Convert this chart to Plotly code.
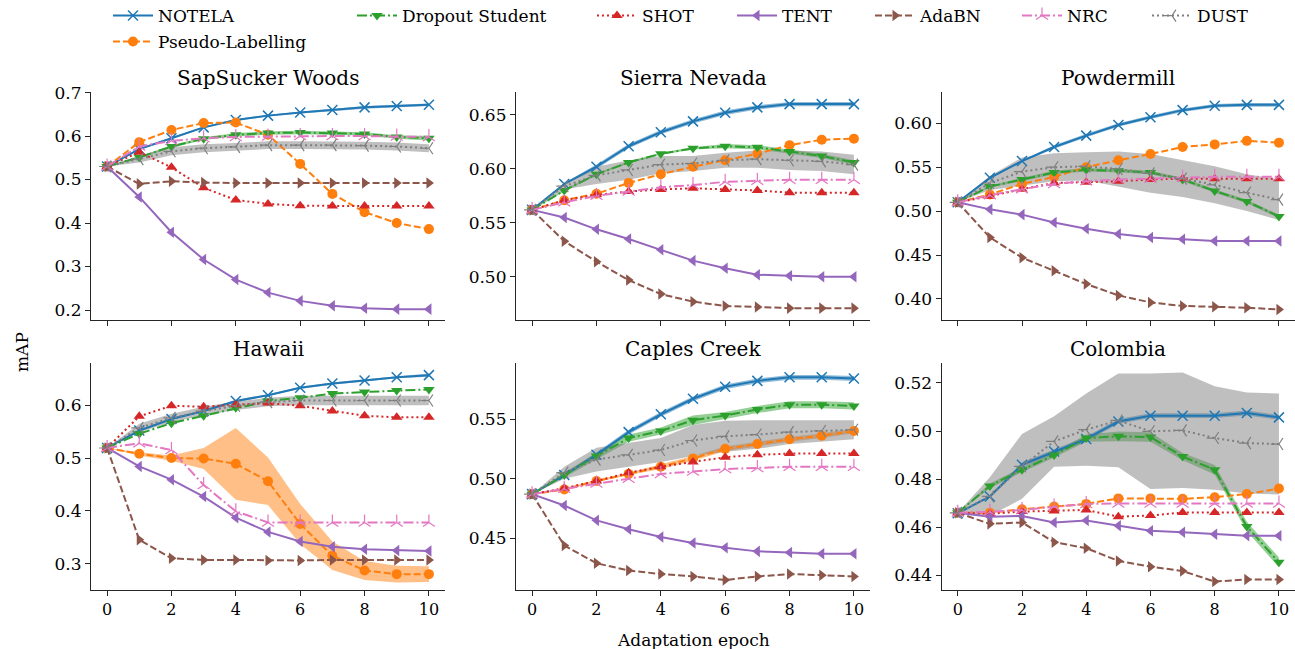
import plotly.graph_objects as go

# ---------------- data ----------------
epochs = list(range(11))
methods = ["NOTELA", "Pseudo-Labelling", "Dropout Student", "SHOT", "TENT", "AdaBN", "NRC", "DUST"]
panels = ["SapSucker Woods", "Sierra Nevada", "Powdermill", "Hawaii", "Caples Creek", "Colombia"]

sapsucker_woods = {
    "NOTELA":           [0.530, 0.570, 0.595, 0.620, 0.637, 0.647, 0.654, 0.660, 0.666, 0.669, 0.672],
    "Pseudo-Labelling": [0.530, 0.586, 0.614, 0.630, 0.631, 0.603, 0.536, 0.467, 0.425, 0.400, 0.386],
    "Dropout Student":  [0.530, 0.551, 0.576, 0.594, 0.603, 0.607, 0.608, 0.607, 0.605, 0.598, 0.595],
    "SHOT":             [0.530, 0.563, 0.528, 0.481, 0.453, 0.444, 0.440, 0.439, 0.439, 0.439, 0.439],
    "TENT":             [0.530, 0.460, 0.379, 0.316, 0.270, 0.240, 0.221, 0.210, 0.204, 0.202, 0.202],
    "AdaBN":            [0.530, 0.490, 0.496, 0.493, 0.492, 0.492, 0.492, 0.492, 0.492, 0.492, 0.492],
    "NRC":              [0.530, 0.576, 0.589, 0.595, 0.598, 0.599, 0.600, 0.600, 0.600, 0.599, 0.598],
    "DUST":             [0.530, 0.547, 0.565, 0.572, 0.575, 0.579, 0.579, 0.579, 0.578, 0.576, 0.572],
}
sierra_nevada = {
    "NOTELA":           [0.562, 0.586, 0.602, 0.621, 0.634, 0.644, 0.652, 0.657, 0.660, 0.660, 0.660],
    "Pseudo-Labelling": [0.562, 0.571, 0.577, 0.587, 0.595, 0.602, 0.608, 0.614, 0.622, 0.627, 0.628],
    "Dropout Student":  [0.562, 0.580, 0.595, 0.606, 0.614, 0.619, 0.621, 0.620, 0.616, 0.612, 0.606],
    "SHOT":             [0.562, 0.571, 0.576, 0.579, 0.581, 0.582, 0.581, 0.580, 0.578, 0.578, 0.578],
    "TENT":             [0.562, 0.555, 0.544, 0.535, 0.525, 0.515, 0.508, 0.502, 0.501, 0.500, 0.500],
    "AdaBN":            [0.562, 0.533, 0.514, 0.497, 0.484, 0.477, 0.473, 0.472, 0.471, 0.471, 0.471],
    "NRC":              [0.562, 0.569, 0.575, 0.579, 0.583, 0.585, 0.588, 0.589, 0.590, 0.590, 0.590],
    "DUST":             [0.562, 0.584, 0.594, 0.599, 0.604, 0.605, 0.608, 0.609, 0.608, 0.607, 0.604],
}
powdermill = {
    "NOTELA":           [0.510, 0.538, 0.557, 0.573, 0.586, 0.598, 0.607, 0.615, 0.620, 0.621, 0.621],
    "Pseudo-Labelling": [0.510, 0.519, 0.531, 0.539, 0.550, 0.558, 0.565, 0.573, 0.576, 0.580, 0.578],
    "Dropout Student":  [0.510, 0.528, 0.536, 0.544, 0.547, 0.546, 0.544, 0.536, 0.523, 0.511, 0.494],
    "SHOT":             [0.510, 0.517, 0.525, 0.532, 0.533, 0.534, 0.536, 0.537, 0.537, 0.537, 0.537],
    "TENT":             [0.510, 0.502, 0.496, 0.487, 0.480, 0.474, 0.470, 0.468, 0.466, 0.466, 0.466],
    "AdaBN":            [0.510, 0.470, 0.447, 0.432, 0.417, 0.404, 0.396, 0.392, 0.391, 0.390, 0.388],
    "NRC":              [0.510, 0.518, 0.525, 0.531, 0.534, 0.536, 0.537, 0.538, 0.539, 0.539, 0.539],
    "DUST":             [0.510, 0.532, 0.545, 0.550, 0.551, 0.548, 0.543, 0.537, 0.530, 0.521, 0.513],
}
hawaii = {
    "NOTELA":           [0.519, 0.552, 0.574, 0.589, 0.608, 0.619, 0.633, 0.641, 0.647, 0.653, 0.657],
    "Pseudo-Labelling": [0.519, 0.508, 0.500, 0.499, 0.489, 0.456, 0.375, 0.315, 0.287, 0.280, 0.280],
    "Dropout Student":  [0.519, 0.546, 0.566, 0.580, 0.595, 0.608, 0.614, 0.622, 0.625, 0.628, 0.630],
    "SHOT":             [0.519, 0.579, 0.599, 0.597, 0.601, 0.604, 0.599, 0.589, 0.580, 0.577, 0.577],
    "TENT":             [0.519, 0.484, 0.459, 0.427, 0.387, 0.360, 0.342, 0.332, 0.327, 0.325, 0.324],
    "AdaBN":            [0.519, 0.345, 0.310, 0.307, 0.307, 0.306, 0.306, 0.307, 0.307, 0.307, 0.307],
    "NRC":              [0.519, 0.528, 0.515, 0.449, 0.399, 0.378, 0.378, 0.378, 0.378, 0.378, 0.378],
    "DUST":             [0.519, 0.557, 0.576, 0.589, 0.599, 0.606, 0.609, 0.609, 0.609, 0.609, 0.609],
}
caples_creek = {
    "NOTELA":           [0.487, 0.503, 0.520, 0.539, 0.554, 0.567, 0.577, 0.582, 0.585, 0.585, 0.584],
    "Pseudo-Labelling": [0.487, 0.491, 0.498, 0.504, 0.510, 0.517, 0.525, 0.529, 0.533, 0.536, 0.540],
    "Dropout Student":  [0.487, 0.503, 0.519, 0.534, 0.540, 0.549, 0.553, 0.558, 0.562, 0.562, 0.561],
    "SHOT":             [0.487, 0.492, 0.498, 0.505, 0.510, 0.514, 0.518, 0.520, 0.521, 0.521, 0.521],
    "TENT":             [0.487, 0.4775, 0.465, 0.4576, 0.451, 0.446, 0.442, 0.439, 0.438, 0.437, 0.437],
    "AdaBN":            [0.487, 0.444, 0.429, 0.423, 0.420, 0.418, 0.415, 0.418, 0.420, 0.419, 0.418],
    "NRC":              [0.487, 0.4915, 0.496, 0.500, 0.504, 0.506, 0.508, 0.509, 0.510, 0.510, 0.510],
    "DUST":             [0.487, 0.505, 0.516, 0.520, 0.524, 0.532, 0.5355, 0.537, 0.539, 0.540, 0.541],
}
colombia = {
    "NOTELA":           [0.4658, 0.4728, 0.486, 0.4915, 0.4967, 0.504, 0.5064, 0.5064, 0.5064, 0.5075, 0.5057],
    "Pseudo-Labelling": [0.466, 0.466, 0.4675, 0.4686, 0.4697, 0.472, 0.472, 0.4718, 0.4725, 0.4738, 0.4761],
    "Dropout Student":  [0.466, 0.4772, 0.4839, 0.490, 0.4971, 0.4978, 0.4975, 0.4894, 0.4839, 0.4603, 0.4454],
    "SHOT":             [0.466, 0.4656, 0.4665, 0.4668, 0.4672, 0.4644, 0.4649, 0.4661, 0.4661, 0.4661, 0.4661],
    "TENT":             [0.466, 0.4644, 0.4647, 0.462, 0.4628, 0.4606, 0.4585, 0.4579, 0.4571, 0.4565, 0.4565],
    "AdaBN":            [0.466, 0.4614, 0.462, 0.4538, 0.4513, 0.446, 0.4436, 0.4418, 0.4374, 0.4383, 0.4383],
    "NRC":              [0.466, 0.4664, 0.4672, 0.4686, 0.4697, 0.4699, 0.4699, 0.4699, 0.4699, 0.4699, 0.4699],
    "DUST":             [0.466, 0.4728, 0.4853, 0.4957, 0.5006, 0.5044, 0.4999, 0.5003, 0.4971, 0.495, 0.4946],
}

# standard deviations (shaded bands), only where visible
sapsucker_woods_std = {
    "NOTELA":          [0, 0.002, 0.002, 0.002, 0.002, 0.002, 0.002, 0.003, 0.003, 0.003, 0.003],
    "Dropout Student": [0, 0.002, 0.003, 0.003, 0.004, 0.004, 0.004, 0.004, 0.004, 0.004, 0.005],
    "DUST":            [0, 0.008, 0.009, 0.009, 0.009, 0.009, 0.009, 0.009, 0.009, 0.009, 0.009],
}
sierra_nevada_std = {
    "NOTELA":          [0, 0.001, 0.002, 0.002, 0.002, 0.002, 0.002, 0.002, 0.002, 0.002, 0.002],
    "Dropout Student": [0, 0.001, 0.001, 0.001, 0.001, 0.001, 0.002, 0.002, 0.002, 0.002, 0.002],
    "DUST":            [0, 0.003, 0.008, 0.009, 0.008, 0.007, 0.007, 0.008, 0.009, 0.009, 0.009],
}
powdermill_std = {
    "NOTELA":          [0, 0.001, 0.001, 0.002, 0.002, 0.002, 0.002, 0.002, 0.002, 0.002, 0.002],
    "Dropout Student": [0, 0.001, 0.002, 0.002, 0.002, 0.002, 0.002, 0.002, 0.002, 0.002, 0.002],
    "DUST":            [0, 0.008, 0.016, 0.016, 0.016, 0.020, 0.022, 0.021, 0.021, 0.021, 0.023],
}
hawaii_std = {
    "NOTELA":           [0, 0.002, 0.002, 0.002, 0.002, 0.002, 0.002, 0.002, 0.002, 0.002, 0.003],
    "Pseudo-Labelling": [0, 0.003, 0.005, 0.020, 0.068, 0.045, 0.038, 0.027, 0.018, 0.016, 0.015],
    "DUST":             [0, 0.008, 0.008, 0.008, 0.008, 0.008, 0.009, 0.009, 0.009, 0.009, 0.009],
}
caples_creek_std = {
    "NOTELA":           [0, 0.001, 0.002, 0.002, 0.002, 0.002, 0.002, 0.002, 0.002, 0.002, 0.002],
    "Pseudo-Labelling": [0, 0.001, 0.001, 0.001, 0.002, 0.002, 0.002, 0.002, 0.002, 0.002, 0.002],
    "Dropout Student":  [0, 0.002, 0.003, 0.003, 0.003, 0.004, 0.003, 0.003, 0.003, 0.003, 0.003],
    "DUST":             [0, 0.005, 0.010, 0.010, 0.010, 0.013, 0.013, 0.012, 0.010, 0.009, 0.008],
}
colombia_std = {
    "NOTELA":          [0, 0.0005, 0.001, 0.001, 0.001, 0.001, 0.001, 0.001, 0.001, 0.001, 0.001],
    "Dropout Student": [0, 0.001, 0.001, 0.001, 0.0015, 0.002, 0.002, 0.0015, 0.002, 0.002, 0.002],
    "DUST":            [0, 0.008, 0.0135, 0.0105, 0.015, 0.0195, 0.024, 0.024, 0.0215, 0.021, 0.021],
}

panel_data = [sapsucker_woods, sierra_nevada, powdermill, hawaii, caples_creek, colombia]
panel_std = [sapsucker_woods_std, sierra_nevada_std, powdermill_std, hawaii_std, caples_creek_std, colombia_std]

y_ranges = [[0.177, 0.702], [0.460, 0.6715], [0.376, 0.636], [0.250, 0.680], [0.4066, 0.597], [0.4339, 0.5283]]
y_ticks = [[0.2, 0.3, 0.4, 0.5, 0.6, 0.7], [0.50, 0.55, 0.60, 0.65], [0.40, 0.45, 0.50, 0.55, 0.60],
           [0.3, 0.4, 0.5, 0.6], [0.45, 0.50, 0.55], [0.44, 0.46, 0.48, 0.50, 0.52]]
y_fmt = [".1f", ".2f", ".2f", ".1f", ".2f", ".2f"]

# ---------------- style ----------------
colors = {"NOTELA": "#1f77b4", "Pseudo-Labelling": "#ff7f0e", "Dropout Student": "#2ca02c", "SHOT": "#d62728",
          "TENT": "#9467bd", "AdaBN": "#8c564b", "NRC": "#e377c2", "DUST": "#7f7f7f"}
rgba = {"NOTELA": "rgba(31,119,180,0.5)", "Pseudo-Labelling": "rgba(255,127,14,0.5)",
        "Dropout Student": "rgba(44,160,44,0.5)", "SHOT": "rgba(214,39,40,0.5)",
        "TENT": "rgba(148,103,189,0.5)", "AdaBN": "rgba(140,86,75,0.5)",
        "NRC": "rgba(227,119,194,0.5)", "DUST": "rgba(127,127,127,0.5)"}
dashes = {"NOTELA": "solid", "Pseudo-Labelling": "7px,3px", "Dropout Student": "10px,3px,2px,3px",
          "SHOT": "2px,3px", "TENT": "solid", "AdaBN": "7px,3px", "NRC": "10px,3px,2px,3px", "DUST": "2px,3px"}
symbols = {"NOTELA": "x-thin", "Pseudo-Labelling": "circle", "Dropout Student": "triangle-down",
           "SHOT": "triangle-up", "TENT": "triangle-left", "AdaBN": "triangle-right", "NRC": "y-up", "DUST": "y-left"}
thin = {"NOTELA", "NRC", "DUST"}

W, H = 1295, 649
FONT = "'DejaVu Serif', 'Liberation Serif', serif"
col_px = [(91, 445), (516, 870), (941.7, 1295)]
row_px = [(91.7, 320), (363, 590)]

fig = go.Figure()
layout = dict(width=W, height=H, margin=dict(l=0, r=0, t=0, b=0, autoexpand=False), paper_bgcolor="white",
              plot_bgcolor="white", font=dict(family=FONT, size=16, color="black"), showlegend=True)
annotations = []

# legend placement: (line-start x px, y px) per method, as in matplotlib column-major layout
leg_pos = {"NOTELA": (108, 16), "Pseudo-Labelling": (108, 42), "Dropout Student": (352, 16), "SHOT": (592, 16),
           "TENT": (732, 16), "AdaBN": (870, 16), "NRC": (1017, 16), "DUST": (1147, 16)}
leg_id = {m: ("legend" if i == 0 else f"legend{i + 1}") for i, m in enumerate(methods)}
for m in methods:
    lx, ly = leg_pos[m]
    layout[leg_id[m]] = dict(x=lx / W, y=1 - ly / H, xanchor="left", yanchor="middle",
                             bgcolor="rgba(0,0,0,0)", font=dict(family=FONT, size=17),
                             itemwidth=40, tracegroupgap=0)

for p, name in enumerate(panels):
    r, c = divmod(p, 3)
    ax = "" if p == 0 else str(p + 1)
    xd = [col_px[c][0] / W, col_px[c][1] / W]
    yd = [1 - row_px[r][1] / H, 1 - row_px[r][0] / H]
    layout["xaxis" + ax] = dict(domain=xd, anchor="y" + ax, range=[-0.5, 10.5], tickvals=[0, 2, 4, 6, 8, 10],
                                showticklabels=(r == 1), ticks="outside", ticklen=5, tickwidth=1,
                                tickcolor="#262626", showline=True, linecolor="#262626", linewidth=1.2,
                                showgrid=False, zeroline=False, tickfont=dict(size=16))
    layout["yaxis" + ax] = dict(domain=yd, anchor="x" + ax, range=y_ranges[p], tickvals=y_ticks[p],
                                tickformat=y_fmt[p], ticks="outside", ticklen=5, tickwidth=1,
                                tickcolor="#262626", showline=True, linecolor="#262626", linewidth=1.2,
                                showgrid=False, zeroline=False, tickfont=dict(size=17))
    annotations.append(dict(text=name, x=(xd[0] + xd[1]) / 2, y=1 - (row_px[r][0] - 14) / H,
                            xref="paper", yref="paper", showarrow=False, xanchor="center", yanchor="middle",
                            font=dict(family=FONT, size=20, color="black")))
    data = panel_data[p]
    std = panel_std[p]
    # bands
    for m in methods:
        if m in std:
            mean = data[m]
            s = std[m]
            up = [a + b for a, b in zip(mean, s)]
            lo = [a - b for a, b in zip(mean, s)]
            fig.add_trace(go.Scatter(x=epochs + epochs[::-1], y=up + lo[::-1], fill="toself",
                                     fillcolor=rgba[m], line=dict(width=0), mode="lines",
                                     hoverinfo="skip", showlegend=False, xaxis="x" + ax, yaxis="y" + ax))
    # lines
    for m in methods:
        mk = dict(symbol=symbols[m], size=10, color=colors[m])
        if m in thin:
            mk["line"] = dict(color=colors[m], width=1.5 if m == "NOTELA" else 1.2)
        else:
            mk["line"] = dict(width=0)
        fig.add_trace(go.Scatter(x=epochs, y=data[m], mode="lines+markers", name=m,
                                 line=dict(color=colors[m], width=2, dash=dashes[m]), marker=mk,
                                 legendgroup=m, showlegend=(p == 0), legend=leg_id[m],
                                 xaxis="x" + ax, yaxis="y" + ax))

annotations.append(dict(text="Adaptation epoch", x=693 / W, y=1 - 640 / H, xref="paper", yref="paper",
                        showarrow=False, xanchor="center", yanchor="middle",
                        font=dict(family=FONT, size=17, color="black")))
annotations.append(dict(text="mAP", x=22 / W, y=1 - 352 / H, xref="paper", yref="paper", textangle=-90,
                        showarrow=False, xanchor="center", yanchor="middle",
                        font=dict(family=FONT, size=17, color="black")))
layout["annotations"] = annotations
fig.update_layout(**layout)
fig.write_html("out.html", config={"displayModeBar": False},
               post_script="document.body.style.margin='0';document.body.style.overflow='hidden';")
